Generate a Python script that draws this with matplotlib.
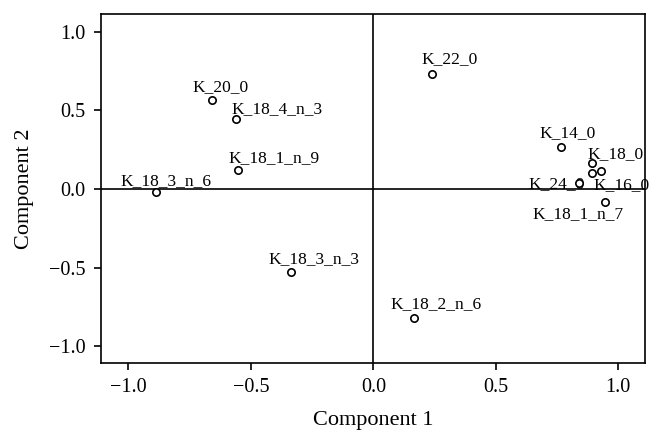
import matplotlib
matplotlib.use("Agg")
import matplotlib.pyplot as plt

plt.rcParams['font.family'] = ['Liberation Serif', 'DejaVu Serif']
plt.rcParams['axes.unicode_minus'] = True

# component loadings
names = ["K_20_0", "K_18_4_n_3", "K_18_1_n_9", "K_18_3_n_6", "K_22_0", "K_14_0",
         "K_18_0", "", "K_16_0", "K_24_0", "K_18_1_n_7", "K_18_3_n_3", "K_18_2_n_6"]
comp1 = [-0.660, -0.562, -0.552, -0.888, 0.239, 0.766,
         0.893, 0.928, 0.894, 0.839, 0.948, -0.336, 0.168]
comp2 = [0.567, 0.446, 0.121, -0.021, 0.732, 0.269,
         0.168, 0.117, 0.104, 0.040, -0.081, -0.529, -0.824]
ticks = [-1.0, -0.5, 0.0, 0.5, 1.0]

# label offsets from each point, in pixels (left edge, baseline)
label_dx = [-19, -4, -10, -35, -10, -21, -5, 0, 1, -50, -73, -23, -24]
label_dy = [9, 6, 8, 7, 11, 10, 4, 0, -16, -5, -16, 9, 10]

fig = plt.figure(figsize=(6.59, 4.46), dpi=100)
ax = fig.add_axes([0.153, 0.186, 0.826, 0.783])

ax.axhline(0, color="black", lw=1.2, zorder=1)
ax.axvline(0, color="black", lw=1.2, zorder=1)

for name, x, y, dx, dy in zip(names, comp1, comp2, label_dx, label_dy):
    if name:
        ax.annotate(name, (x, y), xytext=(dx, dy), textcoords="offset pixels",
                    ha="left", va="baseline", fontsize=12.5, zorder=2)

ax.scatter(comp1, comp2, s=28, facecolors="white", edgecolors="black",
           linewidths=1.2, zorder=3)

ax.set_xlim(-1.113, 1.11)
ax.set_ylim(-1.108, 1.115)
ax.set_xticks(ticks)
ax.set_yticks(ticks)
ax.set_xticklabels([f"{t:.1f}".replace("-", "\u2212") for t in ticks])
ax.set_yticklabels([f"{t:.1f}".replace("-", "\u2212") for t in ticks])
ax.tick_params(direction="out", length=5, width=1.2, labelsize=14.5, pad=6)
for s in ax.spines.values():
    s.set_linewidth(1.2)

ax.set_xlabel("Component 1", fontsize=16, labelpad=10)
ax.set_ylabel("Component 2", fontsize=16, labelpad=11)

fig.savefig("out.png", dpi=100)
